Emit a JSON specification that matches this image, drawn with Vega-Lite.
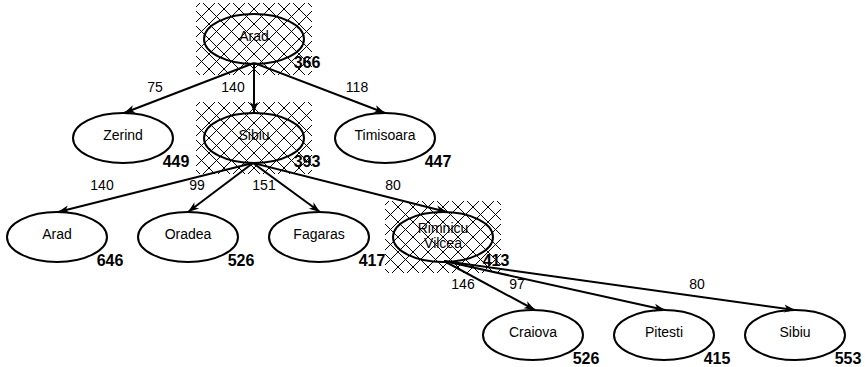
{
  "$schema": "https://vega.github.io/schema/vega-lite/v6.json",
  "width": 865,
  "height": 367,
  "padding": 0,
  "autosize": {"type": "none"},
  "background": "white",
  "config": {"view": {"stroke": null}},
  "datasets": {
    "nodes": [
      {"id": 1, "name": "Arad", "x": 254, "y": 39, "f": 366, "expanded": true},
      {"id": 2, "name": "Zerind", "x": 123, "y": 138, "f": 449, "expanded": false},
      {"id": 3, "name": "Sibiu", "x": 254, "y": 138, "f": 393, "expanded": true},
      {"id": 4, "name": "Timisoara", "x": 385, "y": 138, "f": 447, "expanded": false},
      {"id": 5, "name": "Arad", "x": 57, "y": 237, "f": 646, "expanded": false},
      {"id": 6, "name": "Oradea", "x": 188, "y": 237, "f": 526, "expanded": false},
      {"id": 7, "name": "Fagaras", "x": 319, "y": 237, "f": 417, "expanded": false},
      {"id": 8, "name": "Rimnicu\nVilcea", "x": 443, "y": 237, "f": 413, "expanded": true},
      {"id": 9, "name": "Craiova", "x": 533, "y": 335, "f": 526, "expanded": false},
      {"id": 10, "name": "Pitesti", "x": 664, "y": 335, "f": 415, "expanded": false},
      {"id": 11, "name": "Sibiu", "x": 795, "y": 335, "f": 553, "expanded": false}
    ],
    "edges": [
      {"x1": 254, "y1": 63, "x2": 124, "y2": 113, "cost": 75, "lx": 155, "ly": 88},
      {"x1": 254, "y1": 63, "x2": 254, "y2": 113, "cost": 140, "lx": 233, "ly": 88},
      {"x1": 254, "y1": 63, "x2": 385, "y2": 113, "cost": 118, "lx": 357, "ly": 88},
      {"x1": 253, "y1": 163, "x2": 58, "y2": 212, "cost": 140, "lx": 102, "ly": 186},
      {"x1": 253, "y1": 163, "x2": 188, "y2": 212, "cost": 99, "lx": 197, "ly": 186},
      {"x1": 253, "y1": 163, "x2": 320, "y2": 212, "cost": 151, "lx": 264, "ly": 186},
      {"x1": 253, "y1": 163, "x2": 447, "y2": 212, "cost": 80, "lx": 393, "ly": 186},
      {"x1": 444, "y1": 261, "x2": 535, "y2": 310, "cost": 146, "lx": 463, "ly": 285},
      {"x1": 444, "y1": 261, "x2": 665, "y2": 310, "cost": 97, "lx": 517, "ly": 285},
      {"x1": 444, "y1": 261, "x2": 795, "y2": 310, "cost": 80, "lx": 697, "ly": 285}
    ]
  },
  "layer": [
    {
      "data": {"name": "nodes"},
      "transform": [{"filter": "datum.expanded"}],
      "mark": {
        "type": "point",
        "filled": false,
        "stroke": "black",
        "strokeWidth": 1,
        "opacity": 1,
        "size": 4,
        "shape": "M-58,-32L-54,-36M-58,-17L-39,-36M-58,-2L-24,-36M-58,13L-9,-36M-58,28L6,-36M-51,36L21,-36M-36,36L36,-36M-21,36L51,-36M-6,36L58,-28M9,36L58,-13M24,36L58,2M39,36L58,17M54,36L58,32M-58,32L-54,36M-58,17L-39,36M-58,2L-24,36M-58,-13L-9,36M-58,-28L6,36M-51,-36L21,36M-36,-36L36,36M-21,-36L51,36M-6,-36L58,28M9,-36L58,13M24,-36L58,-2M39,-36L58,-17M54,-36L58,-32"
      },
      "encoding": {
        "x": {"field": "x", "type": "quantitative", "scale": {"domain": [0, 865], "nice": false, "zero": false}, "axis": null},
        "y": {"field": "y", "type": "quantitative", "scale": {"domain": [0, 367], "nice": false, "zero": false, "reverse": true}, "axis": null}
      }
    },
    {
      "data": {"name": "edges"},
      "mark": {"type": "rule", "stroke": "black", "strokeWidth": 2},
      "encoding": {
        "x": {"field": "x1", "type": "quantitative"},
        "y": {"field": "y1", "type": "quantitative"},
        "x2": {"field": "x2"},
        "y2": {"field": "y2"}
      }
    },
    {
      "data": {"name": "edges"},
      "transform": [{"calculate": "atan2(datum.x2 - datum.x1, datum.y1 - datum.y2) * 180 / PI", "as": "ang"}],
      "mark": {"type": "point", "filled": true, "fill": "black", "opacity": 1, "size": 4, "shape": "M0,0L-4,11L0,8L4,11Z"},
      "encoding": {
        "x": {"field": "x2", "type": "quantitative"},
        "y": {"field": "y2", "type": "quantitative"},
        "angle": {"field": "ang", "type": "quantitative", "scale": null}
      }
    },
    {
      "data": {"name": "nodes"},
      "mark": {"type": "point", "filled": false, "stroke": "black", "strokeWidth": 2, "opacity": 1, "size": 4, "shape": "M-50,0A50,25 0 1,0 50,0A50,25 0 1,0 -50,0Z"},
      "encoding": {
        "x": {"field": "x", "type": "quantitative"},
        "y": {"field": "y", "type": "quantitative"}
      }
    },
    {
      "data": {"name": "nodes"},
      "transform": [{"filter": "indexof(datum.name, '\\n') < 0"}],
      "mark": {"type": "text", "font": "Liberation Sans", "fontSize": 14, "fill": "black", "align": "center", "baseline": "middle", "dy": -2},
      "encoding": {
        "x": {"field": "x", "type": "quantitative"},
        "y": {"field": "y", "type": "quantitative"},
        "text": {"field": "name"}
      }
    },
    {
      "data": {"name": "nodes"},
      "transform": [{"filter": "indexof(datum.name, '\\n') >= 0"}],
      "mark": {"type": "text", "font": "Liberation Sans", "fontSize": 14, "fill": "black", "align": "center", "baseline": "middle", "lineBreak": "\n", "lineHeight": 15, "dy": -8},
      "encoding": {
        "x": {"field": "x", "type": "quantitative"},
        "y": {"field": "y", "type": "quantitative"},
        "text": {"field": "name"}
      }
    },
    {
      "data": {"name": "nodes"},
      "mark": {"type": "text", "font": "Liberation Sans", "fontSize": 16, "fontWeight": "bold", "fill": "black", "align": "center", "baseline": "middle", "dx": 53, "dy": 24},
      "encoding": {
        "x": {"field": "x", "type": "quantitative"},
        "y": {"field": "y", "type": "quantitative"},
        "text": {"field": "f"}
      }
    },
    {
      "data": {"name": "edges"},
      "mark": {"type": "text", "font": "Liberation Sans", "fontSize": 14, "fill": "black", "align": "center", "baseline": "middle"},
      "encoding": {
        "x": {"field": "lx", "type": "quantitative"},
        "y": {"field": "ly", "type": "quantitative"},
        "text": {"field": "cost"}
      }
    }
  ]
}
